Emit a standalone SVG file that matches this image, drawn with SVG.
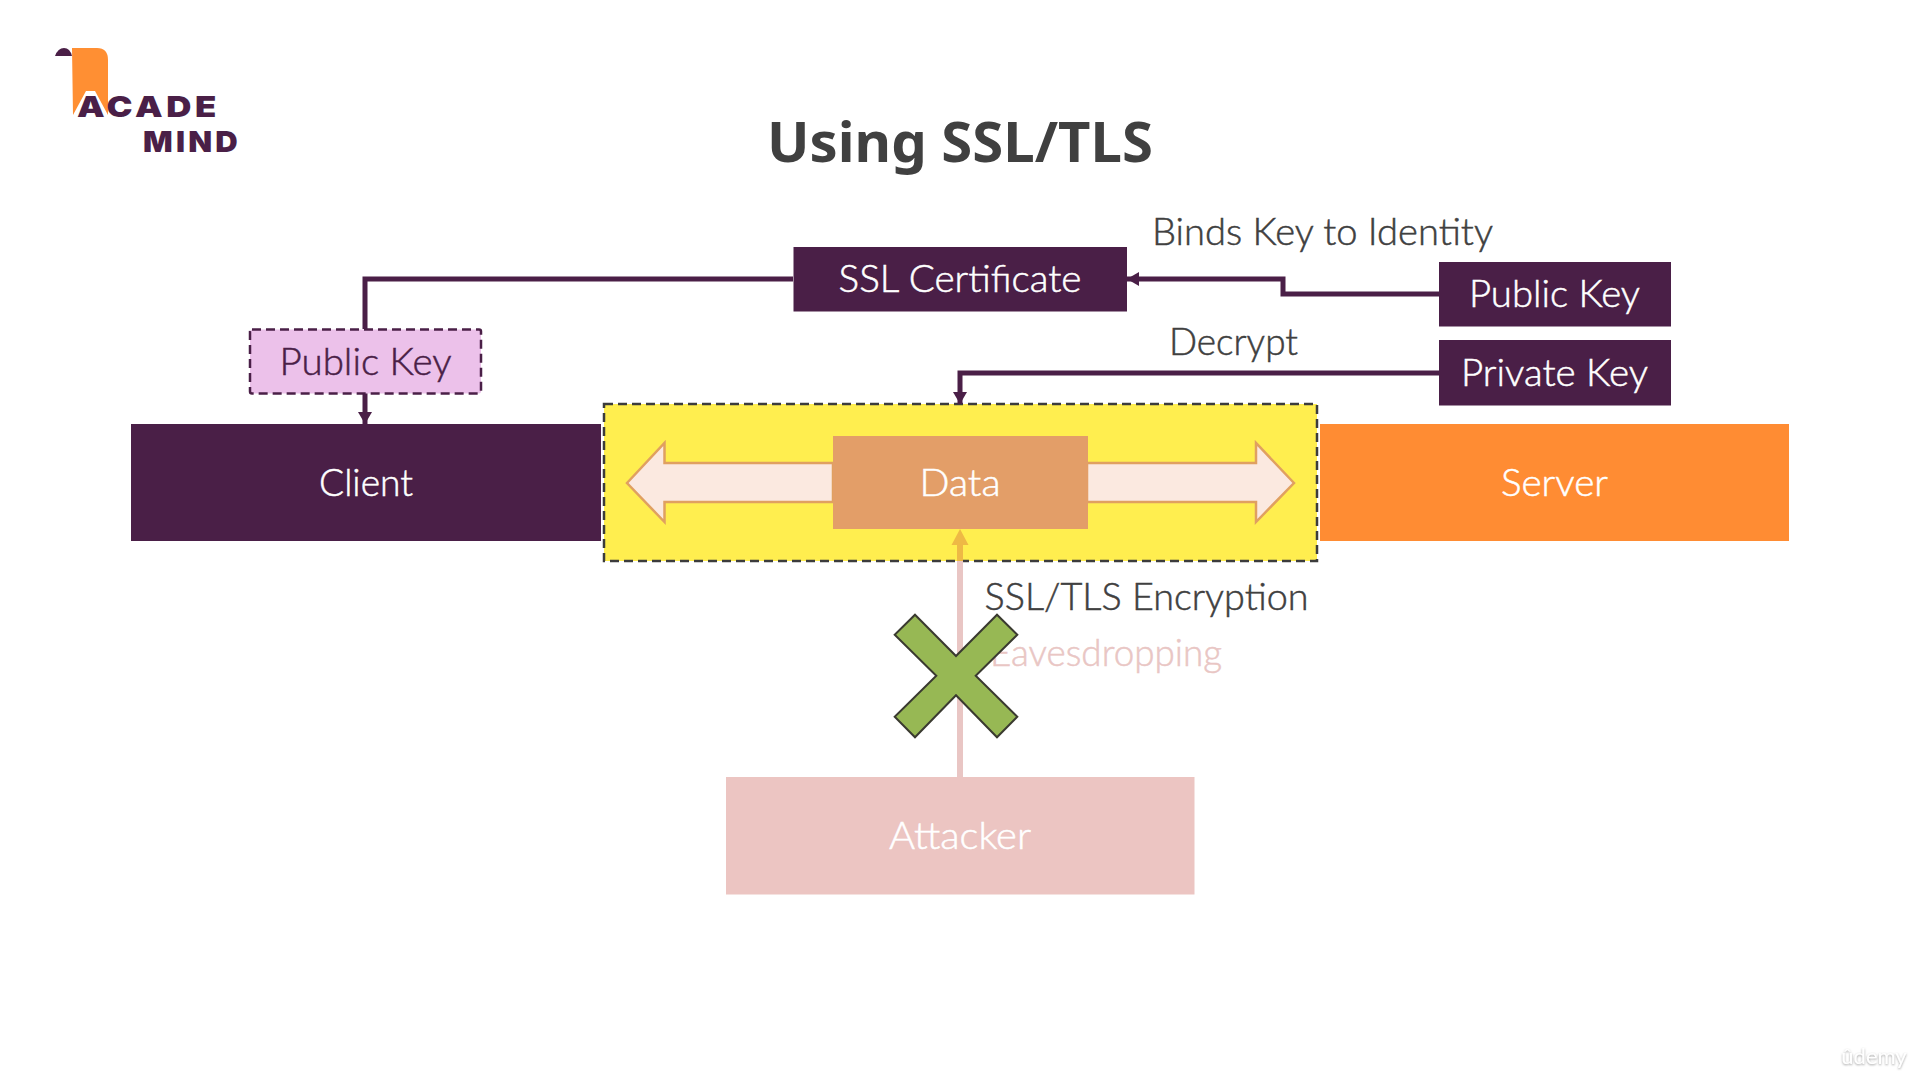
<svg xmlns="http://www.w3.org/2000/svg" width="1920" height="1080" viewBox="0 0 1920 1080">
<style>
text{font-family:"Lato","Noto Sans",sans-serif;font-size:37px;font-weight:300;text-anchor:middle;stroke-width:0.5px}
.w{fill:#fff;stroke:#fff}.d{fill:#404040;stroke:#404040;text-anchor:start}
.k{fill:#4a1f47;stroke:#4a1f47}
.e{fill:#e9c6c4;stroke:#e9c6c4;text-anchor:start}
.p{fill:#4a1f47}
.line{fill:none;stroke:#4a1f47;stroke-width:5}
.logo{font-family:"Inter","Liberation Sans",sans-serif;font-weight:900;font-size:29px;letter-spacing:3px;fill:#4a1f47;stroke:none;text-anchor:start}
</style>
<defs>
<marker id="ah" markerUnits="userSpaceOnUse" markerWidth="14" markerHeight="14" refX="12" refY="7" orient="auto"><path d="M0 0L12 7L0 14Z" fill="#4a1f47"/></marker>
<filter id="sh" x="-20%" y="-40%" width="140%" height="180%"><feDropShadow dx="0" dy="1" stdDeviation="1.300" flood-color="#777" flood-opacity="0.7"/></filter>
</defs>
<rect width="1920" height="1080" fill="#fff"/>
<g id="logo">
<path d="M72 48H97Q108 48 108 60V115L95 91H86L73 115Z" fill="#ff8f33"/>
<path d="M55 56Q58 48 64 48Q70 48 72 56Z" fill="#4a1f47"/>
<text class="logo" x="77" y="117" textLength="143" lengthAdjust="spacingAndGlyphs">ACADE</text>
<text class="logo" x="143" y="152" textLength="98" lengthAdjust="spacingAndGlyphs">MIND</text>
</g>
<text id="title" x="960" y="162" textLength="386" lengthAdjust="spacingAndGlyphs" style="font-family:'Noto Sans',sans-serif;font-weight:700;font-size:55px;fill:#404040;stroke:none">Using SSL/TLS</text>
<g id="client"><rect x="131" y="424" width="470" height="117" class="p"/><text class="w" x="366" y="496" textLength="94" lengthAdjust="spacingAndGlyphs">Client</text></g>
<g id="server"><rect x="1320" y="424" width="469" height="117" fill="#ff8c33"/><text class="w" x="1554.500" y="496" textLength="107" lengthAdjust="spacingAndGlyphs">Server</text></g>
<g id="attacker"><rect x="726" y="777" width="468.500" height="117.500" fill="#ecc5c2"/><text class="w" x="960" y="849" textLength="142" lengthAdjust="spacingAndGlyphs">Attacker</text></g>
<g id="ssl-zone"><rect x="604" y="404" width="713" height="157" fill="#ffee4f" stroke="#3c3c3c" stroke-width="2.500" stroke-dasharray="9 5"/></g>
<g id="transfer"><path d="M627 483L664.500 443V463H833V502H664.500V522ZM1294 483L1256 443V463H1087V502H1256V522Z" fill="#fbe9e0" stroke="#e0a060" stroke-width="2.500"/></g>
<g id="data"><rect x="833" y="436" width="255" height="93" fill="#e39e68"/><text class="w" x="960" y="496" textLength="81" lengthAdjust="spacingAndGlyphs">Data</text></g>
<g id="connectors">
<path class="line" d="M793 279H365V329"/>
<path class="line" d="M365 393V424" marker-end="url(#ah)"/>
<path class="line" d="M1440 294H1283V279H1127" marker-end="url(#ah)"/>
<path class="line" d="M1440 373H960V404" marker-end="url(#ah)"/>
<path d="M960 777V561" fill="none" stroke="#e9c6c4" stroke-width="6"/>
<path d="M960 561V545" fill="none" stroke="#eeb945" stroke-width="6"/>
<path d="M960 529L968.500 545H951.500Z" fill="#eeb945"/>
</g>
<g id="ssl-certificate"><rect x="793.500" y="247" width="333.500" height="64.500" class="p"/><text class="w" x="960" y="292" textLength="243" lengthAdjust="spacingAndGlyphs">SSL Certificate</text></g>
<g id="public-key-server"><rect x="1439" y="262" width="232" height="64.500" class="p"/><text class="w" x="1554.500" y="307" textLength="171" lengthAdjust="spacingAndGlyphs">Public Key</text></g>
<g id="private-key"><rect x="1439" y="340" width="232" height="65.500" class="p"/><text class="w" x="1554.500" y="386" textLength="187" lengthAdjust="spacingAndGlyphs">Private Key</text></g>
<g id="public-key-client"><rect x="250" y="329.500" width="231" height="64" rx="2" fill="#ecc1ea" stroke="#4a1f47" stroke-width="2.500" stroke-dasharray="9 5"/><text class="k" x="365.500" y="375" textLength="172" lengthAdjust="spacingAndGlyphs">Public Key</text></g>
<text class="d" x="1152" y="245" textLength="341" lengthAdjust="spacingAndGlyphs">Binds Key to Identity</text>
<text class="d" x="1169" y="355" textLength="129" lengthAdjust="spacingAndGlyphs">Decrypt</text>
<text class="d" x="984.500" y="610" textLength="324" lengthAdjust="spacingAndGlyphs">SSL/TLS Encryption</text>
<text class="e" x="990" y="666" textLength="232" lengthAdjust="spacingAndGlyphs">Eavesdropping</text>
<g id="block-mark"><path d="M915 614.700L956 656L997 614.700L1017.300 634.700L975.700 675.700L1017.300 716.700L997 737.300L956 695.300L915 737.300L894.700 716.700L936.300 675.700L894.700 634.700Z" fill="#97b854" stroke="#3a3a30" stroke-width="2"/></g>
<text x="1874" y="1064" filter="url(#sh)" style="font-size:22px;font-weight:400;fill:#fff;stroke:none">ûdemy</text>
</svg>
